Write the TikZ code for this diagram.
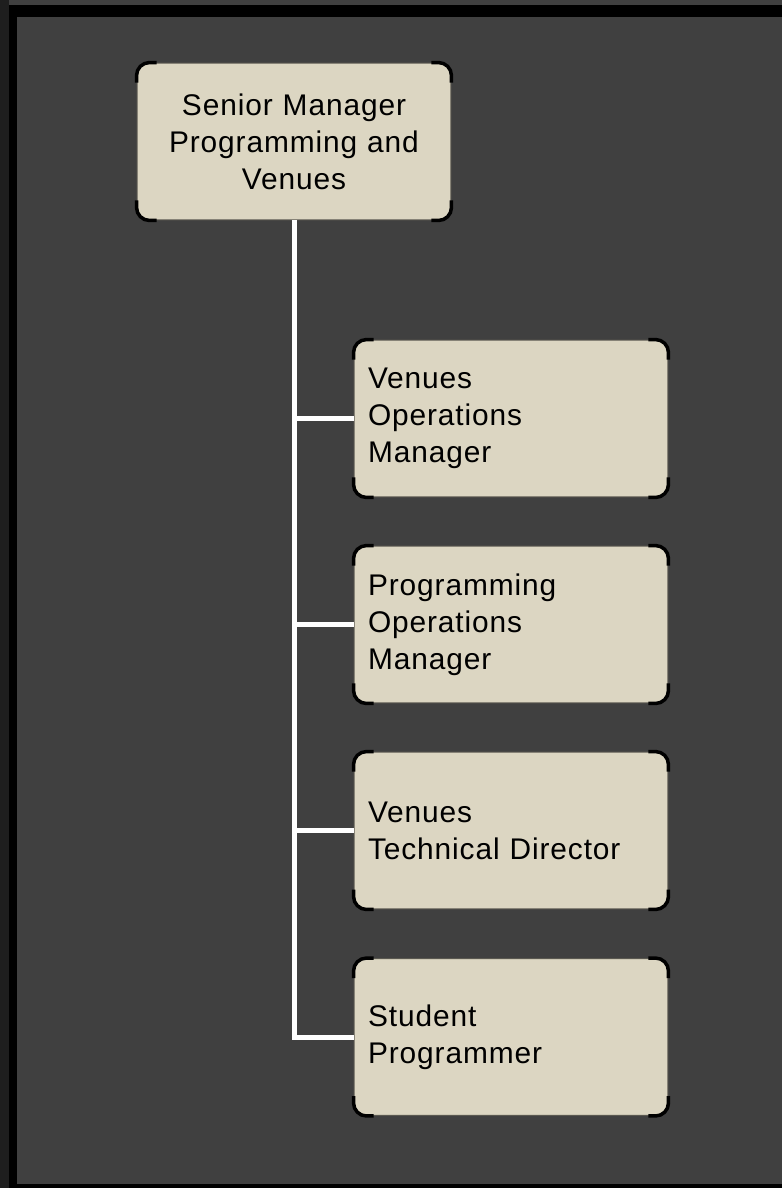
\documentclass[tikz,border=0pt]{standalone}
\usepackage{fontspec}
\newfontfamily\postfont[LetterSpace=3]{Liberation Sans}
\definecolor{pagegray}{HTML}{404040}
\definecolor{edgegray}{HTML}{1E1E1E}
\definecolor{postfill}{HTML}{DCD6C2}
\definecolor{postline}{HTML}{5A5850}
\tikzset{
  post/.style={draw=postline, line width=0.02cm, fill=postfill, rounded corners=0.26cm,
    minimum width=6.28cm, minimum height=3.14cm, inner xsep=0.28cm, inner ysep=0pt,
    text width=5.72cm, font=\postfont\fontsize{17}{21}\selectfont, text=black},
  wire/.style={draw=white, line width=0.1cm},
  cornermark/.style={draw=black, line width=0.07cm, rounded corners=0.26cm}
}
\begin{document}
\begin{tikzpicture}[x=0.02cm, y=-0.02cm]
          \useasboundingbox (0,0) rectangle (782,1188);
          % page and frame
          \fill[pagegray] (0,0) rectangle (782,1188);
          \fill[edgegray] (0,0) rectangle (9,1188);
          \fill[black] (9,5) rectangle (782,17);
          \fill[black] (9,5) rectangle (17,1188);
          \fill[black] (9,1184) rectangle (782,1188);
          % posts
          \node [post, align=center] (senior) at (294,141.5) {Senior Manager\\Programming and\\Venues};
          \node [post, align=left] (venops) at (511,418.5) {Venues\\Operations\\Manager};
          \node [post, align=left] (progops) at (511,624.5) {Programming\\Operations\\Manager};
          \node [post, align=left] (techdir) at (511,830.5) {Venues\\Technical Director};
          \node [post, align=left] (student) at (511,1037) {Student\\Programmer};
          % corner marks
          \foreach \n in {senior,venops,progops,techdir,student}{
            \draw[cornermark] ([yshift=-0.4cm]\n.north west) -- (\n.north west) -- ([xshift=0.4cm]\n.north west);
            \draw[cornermark] ([xshift=-0.4cm]\n.north east) -- (\n.north east) -- ([yshift=-0.4cm]\n.north east);
            \draw[cornermark] ([yshift=0.4cm]\n.south east) -- (\n.south east) -- ([xshift=-0.4cm]\n.south east);
            \draw[cornermark] ([xshift=0.4cm]\n.south west) -- (\n.south west) -- ([yshift=0.4cm]\n.south west);
          }
          % reporting lines
          \draw[wire] (senior.south) |- (student.west);
          \foreach \n in {venops,progops,techdir}
            \draw[wire] (senior.south |- \n.west) -- (\n.west);
        \end{tikzpicture}
\end{document}
